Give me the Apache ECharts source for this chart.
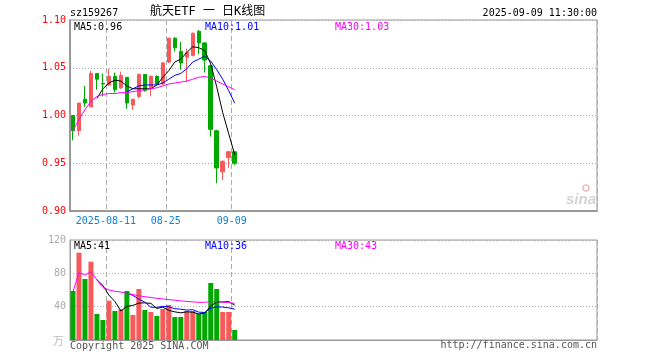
<!DOCTYPE html>
<html>
<head>
<meta charset="utf-8">
<script src="https://cdn.jsdelivr.net/npm/echarts@6/dist/echarts.min.js"></script>
<style>
html,body{margin:0;padding:0;background:#fff;}
#c{width:660px;height:360px;}
</style>
</head>
<body>
<div id="c"></div>
<script>
// ---- data ----
var dates = ['2025-08-01','2025-08-04','2025-08-05','2025-08-06','2025-08-07','2025-08-08',
  '2025-08-11','2025-08-12','2025-08-13','2025-08-14','2025-08-15','2025-08-18','2025-08-19',
  '2025-08-20','2025-08-21','2025-08-22','2025-08-25','2025-08-26','2025-08-27','2025-08-28',
  '2025-08-29','2025-09-01','2025-09-02','2025-09-03','2025-09-04','2025-09-05','2025-09-08','2025-09-09'];
var opens  = [1.000,0.984,1.017,1.009,1.044,1.0335,1.032,1.041,1.029,1.040,1.011,1.020,1.043,1.029,1.041,1.033,1.056,1.081,1.067,1.061,1.063,1.088,1.076,1.052,0.984,0.941,0.956,0.962];
var closes = [0.984,1.013,1.013,1.044,1.038,1.033,1.041,1.027,1.042,1.013,1.017,1.043,1.026,1.041,1.033,1.055,1.081,1.071,1.055,1.066,1.086,1.076,1.058,0.9855,0.945,0.952,0.962,0.950];
var lows   = [0.974,0.979,1.009,1.009,1.027,1.020,1.031,1.024,1.028,1.007,1.006,1.018,1.025,1.020,1.032,1.032,1.055,1.067,1.048,1.035,1.062,1.064,1.045,0.978,0.929,0.9325,0.945,0.948];
var highs  = [1.000,1.013,1.031,1.047,1.044,1.044,1.049,1.045,1.046,1.040,1.017,1.044,1.043,1.042,1.042,1.056,1.081,1.082,1.077,1.070,1.087,1.0895,1.0765,1.053,0.985,0.953,0.963,0.962];
var ma5  = ['-','-','-','-',1.018,1.028,1.034,1.037,1.036,1.031,1.028,1.028,1.028,1.028,1.032,1.040,1.047,1.056,1.059,1.066,1.072,1.071,1.068,1.054,1.030,1.003,0.981,0.959];
var ma10 = ['-','-','-','-','-','-','-','-','-',1.025,1.028,1.031,1.032,1.032,1.032,1.034,1.038,1.042,1.044,1.049,1.056,1.059,1.062,1.057,1.048,1.038,1.026,1.013];
var ma30 = [0.984,0.996,1.006,1.015,1.020,1.022,1.023,1.023,1.024,1.024,1.025,1.026,1.027,1.028,1.029,1.031,1.033,1.034,1.035,1.036,1.038,1.040,1.041,1.039,1.036,1.033,1.030,1.027];
var vols = [58.8,104.8,73.2,94,31.2,24,47.2,34.8,36.8,58.8,30,61.2,36,33.6,28.8,37.2,42,27.6,27.6,34.8,34.8,31.2,33.6,68.4,61.2,33.6,33.6,12];
var volMa5  = ['-','-','-','-',72.4,65.4,53.9,46.2,34.8,40.3,41.5,44.3,44.6,43.9,37.9,39.4,35.5,33.8,32.6,33.8,33.4,31.2,32.4,40.6,45.8,45.6,46.1,41.8];
var volMa10 = ['-','-','-','-','-','-','-','-','-',56.4,53.5,49.1,45.4,39.4,39.1,40.4,39.9,37.5,37.0,35.9,36.4,33.4,33.1,38.0,39.8,39.5,38.6,37.0];
var volMa30 = [58,81,78,82,72,63,60,58.5,57.5,56,54.5,53,52,51,50,49.3,48.5,47.8,47,46.3,45.7,45.2,45.2,46,46,45.5,44.8,44];
var priceTicks = [0.90,0.95,1.00,1.05,1.10];
var volTicks = [0,40,80,120];
var labelIdx = [6,16,27];
var totalSlots = 88;

// ---- build ----
var cats = dates.slice();
for (var i = dates.length; i < totalSlots; i++) cats.push('slot' + i);
var kData = opens.map(function (o, i) { return [o, closes[i], lows[i], highs[i]]; });
var UP = '#f65a5a', DOWN = '#00a800';
var volData = vols.map(function (v, i) {
  return { value: v, itemStyle: { color: closes[i] > opens[i] ? UP : DOWN } };
});
var MONO = 'DejaVu Sans Mono, Liberation Mono, monospace';
function isLab(i) { return labelIdx.indexOf(i) >= 0; }
var vSplit = { show: true, interval: function (i) { return isLab(i); }, lineStyle: { color: '#aaa', type: [5, 3], width: 1 } };
var hSplit = { show: true, lineStyle: { color: '#aaa', type: [1, 2], width: 1 } };

function txt(t, x, y, color, opts) {
  opts = opts || {};
  return { type: 'text', silent: true, z: 100, style: {
    text: t, x: x, y: y, fill: color, font: (opts.font || ('10px ' + MONO)),
    align: opts.align || 'left', verticalAlign: 'middle' } };
}

var option = {
  animation: false,
  backgroundColor: '#fff',
  grid: [
    { left: 70, top: 20, width: 527, height: 191, show: true, borderColor: '#999', borderWidth: 1, containLabel: false },
    { left: 70, top: 240, width: 527, height: 100, show: true, borderColor: '#999', borderWidth: 1, containLabel: false }
  ],
  xAxis: [
    { type: 'category', gridIndex: 0, data: cats, boundaryGap: true,
      axisLine: { show: true, lineStyle: { color: '#999', width: 2 } },
      axisTick: { show: false },
      axisLabel: { show: true, interval: function (i) { return isLab(i); }, margin: 5,
        formatter: function (v, i) { var s = (i === labelIdx[0]) ? v : v.slice(5); return '{d|' + s + '}'; },
        rich: { d: { color: '#0a82dc', fontSize: 10, fontFamily: MONO, padding: [0, 6, 0, 0] } } },
      splitLine: vSplit },
    { type: 'category', gridIndex: 1, data: cats, boundaryGap: true,
      axisLine: { show: true, lineStyle: { color: '#999', width: 1 } },
      axisTick: { show: false }, axisLabel: { show: false },
      splitLine: vSplit }
  ],
  yAxis: [
    { type: 'value', gridIndex: 0, min: priceTicks[0], max: priceTicks[priceTicks.length - 1], interval: 0.05,
      axisLine: { show: true, lineStyle: { color: '#999', width: 2 } }, axisTick: { show: false },
      axisLabel: { color: '#f00', fontSize: 10, fontFamily: MONO, margin: 4,
        formatter: function (v) { return v.toFixed(2); } },
      splitLine: hSplit },
    { type: 'value', gridIndex: 1, min: volTicks[0], max: volTicks[volTicks.length - 1], interval: 40,
      axisLine: { show: true, lineStyle: { color: '#999', width: 1 } }, axisTick: { show: false },
      axisLabel: { color: '#aaa', fontSize: 10, fontFamily: MONO, margin: 4,
        formatter: function (v) { return v === 0 ? '' : String(v); } },
      splitLine: hSplit }
  ],
  series: [
    { type: 'candlestick', xAxisIndex: 0, yAxisIndex: 0, data: kData, barWidth: 4,
      itemStyle: { color: UP, color0: DOWN, borderColor: UP, borderColor0: DOWN, borderWidth: 1 } },
    { type: 'line', xAxisIndex: 0, yAxisIndex: 0, data: ma5, symbol: 'none', lineStyle: { color: '#000', width: 1 }, z: 5 },
    { type: 'line', xAxisIndex: 0, yAxisIndex: 0, data: ma10, symbol: 'none', lineStyle: { color: '#0000ff', width: 1 }, z: 5 },
    { type: 'line', xAxisIndex: 0, yAxisIndex: 0, data: ma30, symbol: 'none', lineStyle: { color: '#ff00ff', width: 1 }, z: 5 },
    { type: 'bar', xAxisIndex: 1, yAxisIndex: 1, data: volData, barWidth: 5 },
    { type: 'line', xAxisIndex: 1, yAxisIndex: 1, data: volMa5, symbol: 'none', lineStyle: { color: '#000', width: 1 }, z: 5 },
    { type: 'line', xAxisIndex: 1, yAxisIndex: 1, data: volMa10, symbol: 'none', lineStyle: { color: '#0000ff', width: 1 }, z: 5 },
    { type: 'line', xAxisIndex: 1, yAxisIndex: 1, data: volMa30, symbol: 'none', lineStyle: { color: '#ff00ff', width: 1 }, z: 5 }
  ],
  graphic: [
    txt('sz159267', 70, 13, '#000'),
    txt('航天ETF 一 日K线图', 150, 12, '#000', { font: '12px ' + MONO + ', Noto Sans CJK SC' }),
    txt('2025-09-09 11:30:00', 597, 13, '#000', { align: 'right' }),
    txt('MA5:0.96', 74, 27, '#000'),
    txt('MA10:1.01', 205, 27, '#0000ff'),
    txt('MA30:1.03', 335, 27, '#ff00ff'),
    txt('MA5:41', 74, 246, '#000'),
    txt('MA10:36', 205, 246, '#0000ff'),
    txt('MA30:43', 335, 246, '#ff00ff'),
    txt('万', 64, 341, '#bbb', { align: 'right', font: '11px Noto Sans CJK SC' }),
    txt('Copyright 2025 SINA.COM', 70, 346, '#555'),
    txt('http://finance.sina.com.cn', 597, 345, '#555', { align: 'right' }),
    txt('sina', 596, 200, '#d4d4d4', { align: 'right', font: 'italic bold 15px Liberation Sans, sans-serif' }),
    { type: 'circle', silent: true, z: 100, shape: { cx: 586, cy: 188, r: 3 }, style: { fill: 'none', stroke: '#f0b8b8', lineWidth: 1.5 } }
  ]
};
var chart = echarts.init(document.getElementById('c'), null, { renderer: 'canvas' });
chart.setOption(option);
</script>
</body>
</html>
